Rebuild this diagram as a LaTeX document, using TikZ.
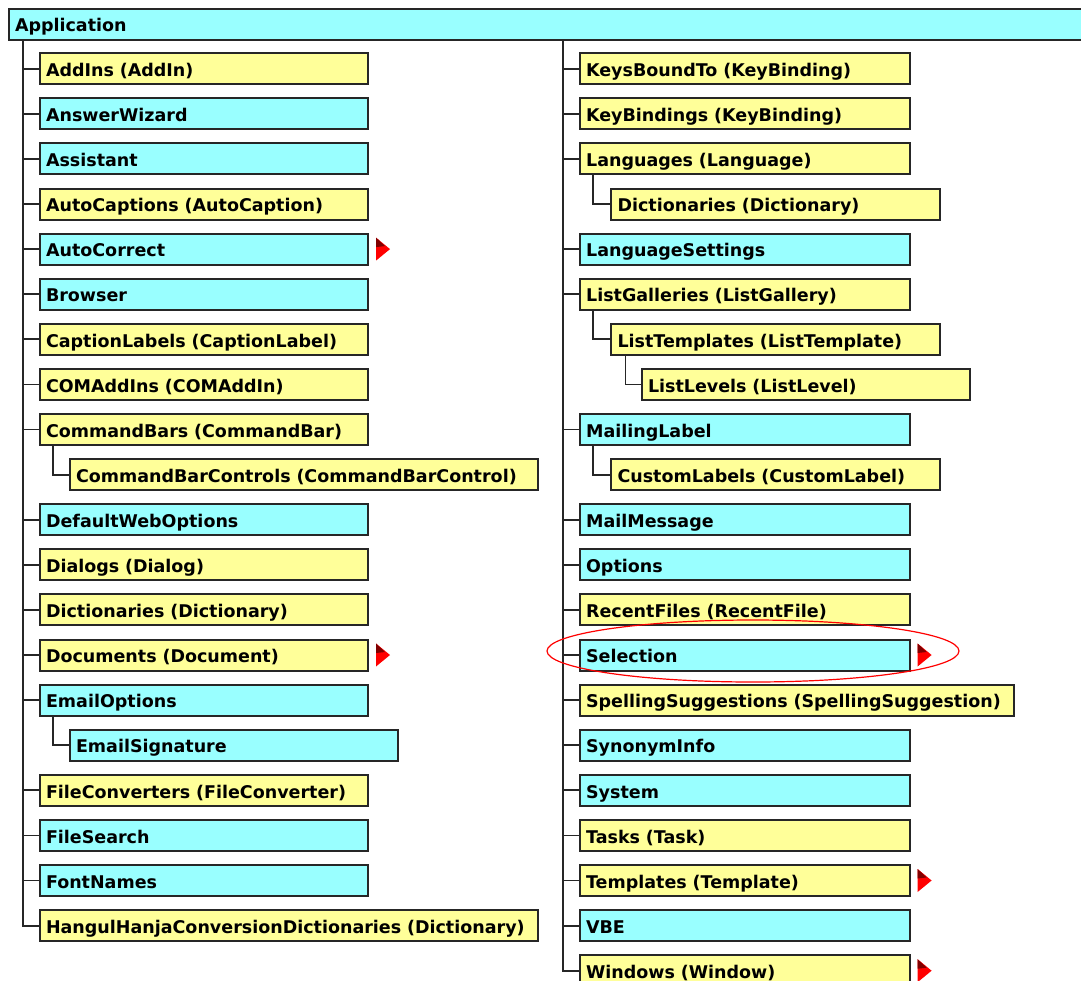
\documentclass[tikz,border=0pt]{standalone}
\usepackage{fontspec}
\usetikzlibrary{shapes.geometric}
\setmainfont{DejaVu Sans}
\definecolor{objcyan}{HTML}{99FFFF}
\definecolor{objyellow}{HTML}{FFFF99}
\definecolor{edge}{HTML}{262626}
\tikzset{
  obj/.style={draw=edge, line width=2pt, anchor=west, minimum height=31pt,
    inner xsep=6.5pt, inner ysep=0pt, text height=16pt, text depth=0.6pt,
    align=left, font=\fontsize{17.5}{19}\selectfont\bfseries, text=black},
  coll/.style={obj, fill=objyellow},
  single/.style={obj, fill=objcyan},
  w/.style={text width=#1pt-13pt},
  conn/.style={draw=edge, line width=1.8pt},
}
\newcommand{\moremark}[1]{%
  \fill[red] ([xshift=7pt,yshift=-11.5pt]#1.east) -- ([xshift=21pt]#1.east)
    -- ([xshift=7pt,yshift=11.5pt]#1.east) -- cycle;
  \fill[red!50!black] ([xshift=7pt,yshift=2pt]#1.east) -- ([xshift=16pt,yshift=3pt]#1.east)
    -- ([xshift=7pt,yshift=11.5pt]#1.east) -- cycle;}
\begin{document}
\begin{tikzpicture}[x=1pt,y=-1pt]
\useasboundingbox (0,0) rectangle (1081,980);

% root object bar
\node[single, anchor=north west, w=1090, minimum height=31.5pt] (app) at (7.5,7.5) {Application};

% left column
\node[coll,   w=328.5] (addins)   at (38.5, 68.7)  {AddIns (AddIn)};
\node[single, w=328.5] (answer)   at (38.5, 113.8) {AnswerWizard};
\node[single, w=328.5] (assist)   at (38.5, 158.9) {Assistant};
\node[coll,   w=328.5] (autocap)  at (38.5, 204.0) {AutoCaptions (AutoCaption)};
\node[single, w=328.5] (autocor)  at (38.5, 249.1) {AutoCorrect};
\node[single, w=328.5] (browser)  at (38.5, 294.2) {Browser};
\node[coll,   w=328.5] (caplab)   at (38.5, 339.3) {CaptionLabels (CaptionLabel)};
\node[coll,   w=328.5] (comadd)   at (38.5, 384.4) {COMAddIns (COMAddIn)};
\node[coll,   w=328.5] (cmdbars)  at (38.5, 429.5) {CommandBars (CommandBar)};
\node[coll,   w=468.5] (cbc)      at (68.5, 474.6) {CommandBarControls (CommandBarControl)};
\node[single, w=328.5] (dwo)      at (38.5, 519.7) {DefaultWebOptions};
\node[coll,   w=328.5] (dialogs)  at (38.5, 564.8) {Dialogs (Dialog)};
\node[coll,   w=328.5] (dicts)    at (38.5, 609.9) {Dictionaries (Dictionary)};
\node[coll,   w=328.5] (docs)     at (38.5, 655.0) {Documents (Document)};
\node[single, w=328.5] (emailopt) at (38.5, 700.1) {EmailOptions};
\node[single, w=328.5] (emailsig) at (68.5, 745.2) {EmailSignature};
\node[coll,   w=328.5] (fileconv) at (38.5, 790.3) {FileConverters (FileConverter)};
\node[single, w=328.5] (filesrch) at (38.5, 835.4) {FileSearch};
\node[single, w=328.5] (fontnm)   at (38.5, 880.5) {FontNames};
\node[coll,   w=498.5] (hangul)   at (38.5, 925.6) {HangulHanjaConversionDictionaries (Dictionary)};

% right column
\node[coll,   w=330]   (keysbound) at (578.6, 68.7)  {KeysBoundTo (KeyBinding)};
\node[coll,   w=330]   (keybind)   at (578.6, 113.8) {KeyBindings (KeyBinding)};
\node[coll,   w=330]   (langs)     at (578.6, 158.9) {Languages (Language)};
\node[coll,   w=329]   (langdict)  at (610,   204.0) {Dictionaries (Dictionary)};
\node[single, w=330]   (langset)   at (578.6, 249.1) {LanguageSettings};
\node[coll,   w=330]   (listgal)   at (578.6, 294.2) {ListGalleries (ListGallery)};
\node[coll,   w=329]   (listtpl)   at (610,   339.3) {ListTemplates (ListTemplate)};
\node[coll,   w=328.5] (listlvl)   at (640.5, 384.4) {ListLevels (ListLevel)};
\node[single, w=330]   (maillab)   at (578.6, 429.5) {MailingLabel};
\node[coll,   w=329]   (custlab)   at (610,   474.6) {CustomLabels (CustomLabel)};
\node[single, w=330]   (mailmsg)   at (578.6, 519.7) {MailMessage};
\node[single, w=330]   (options)   at (578.6, 564.8) {Options};
\node[coll,   w=330]   (recent)    at (578.6, 609.9) {RecentFiles (RecentFile)};
\node[single, w=330]   (select)    at (578.6, 655.0) {Selection};
\node[coll,   w=434.4] (spell)     at (578.6, 700.1) {SpellingSuggestions (SpellingSuggestion)};
\node[single, w=330]   (synonym)   at (578.6, 745.2) {SynonymInfo};
\node[single, w=330]   (system)    at (578.6, 790.3) {System};
\node[coll,   w=330]   (tasks)     at (578.6, 835.4) {Tasks (Task)};
\node[coll,   w=330]   (templates) at (578.6, 880.5) {Templates (Template)};
\node[single, w=330]   (vbe)       at (578.6, 925.6) {VBE};
\node[coll,   w=330]   (windows)   at (578.6, 970.7) {Windows (Window)};

% trunks under the root
\coordinate (ltop) at (22.7, 39);
\coordinate (rtop) at (563.3, 39);
\foreach \c in {addins,answer,assist,autocap,autocor,browser,caplab,comadd,cmdbars,
                dwo,dialogs,dicts,docs,emailopt,fileconv,filesrch,fontnm,hangul}
  \draw[conn] (ltop) |- (\c.west);
\foreach \c in {keysbound,keybind,langs,langset,listgal,maillab,mailmsg,options,recent,
                select,spell,synonym,system,tasks,templates,vbe,windows}
  \draw[conn] (rtop) |- (\c.west);

% nested children
\draw[conn] ([xshift=14.5pt]cmdbars.south west)  |- (cbc.west);
\draw[conn] ([xshift=14.5pt]emailopt.south west) |- (emailsig.west);
\draw[conn] ([xshift=14.5pt]langs.south west)    |- (langdict.west);
\draw[conn] ([xshift=14.5pt]listgal.south west)  |- (listtpl.west);
\draw[conn] ([xshift=15.5pt]listtpl.south west)  |- (listlvl.west);
\draw[conn] ([xshift=14.5pt]maillab.south west)  |- (custlab.west);

% objects with further members
\moremark{autocor}
\moremark{docs}
\moremark{select}
\moremark{templates}
\moremark{windows}

% highlight ring
\node[draw=red, line width=1.2pt, ellipse, minimum width=412pt, minimum height=62pt,
      inner sep=0pt] (ring) at (753, 651) {};
\end{tikzpicture}
\end{document}
